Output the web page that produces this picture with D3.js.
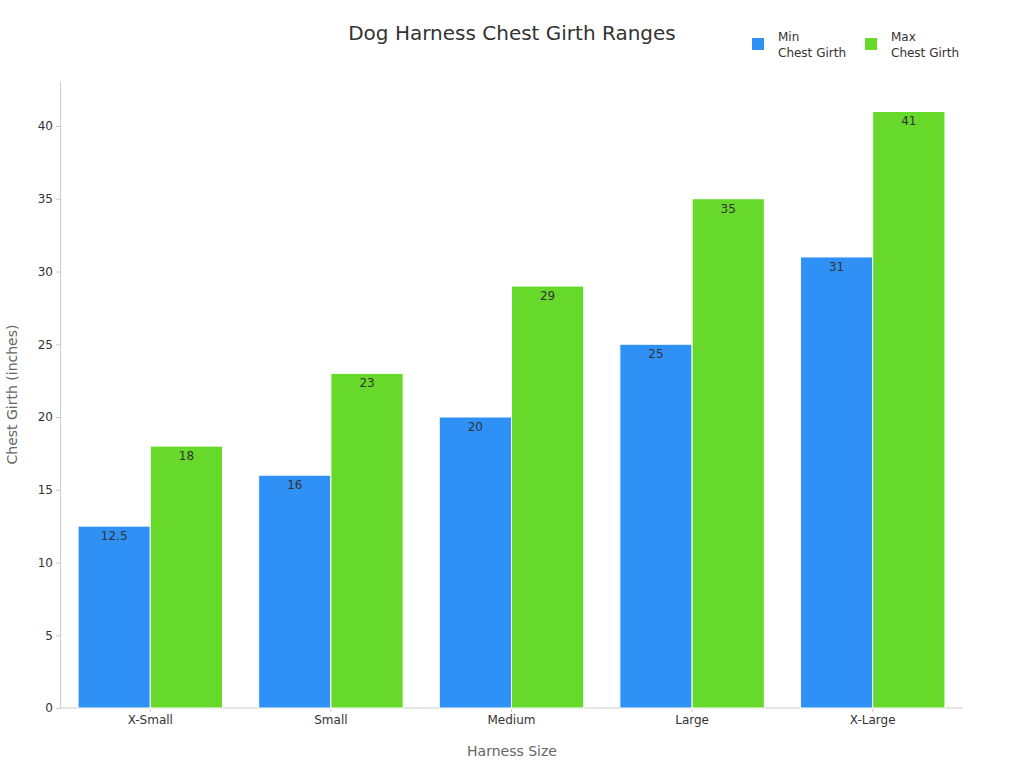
<!DOCTYPE html>
<html><head><meta charset="utf-8">
<script src="https://cdn.jsdelivr.net/npm/d3@7"></script>
<style>body{margin:0;background:#fff;font-family:"DejaVu Sans",sans-serif}</style>
</head><body><svg id="c" width="1024" height="768"></svg>
<script>
const categories=["X-Small","Small","Medium","Large","X-Large"];
const minGirth=[12.5,16,20,25,31];
const maxGirth=[18,23,29,35,41];
const seriesNames=[["Min","Chest Girth"],["Max","Chest Girth"]];
const colors=["#2f91f5","#66d92a"];
const yTicks=[0,5,10,15,20,25,30,35,40];

const svg=d3.select("#c");
const L=60,R=963,T=81,B=708;
const x=d3.scaleBand().domain(categories).range([L,R]).paddingInner(0.2).paddingOuter(0.1);
const xs=d3.scaleBand().domain([0,1]).range([0,x.bandwidth()]);
const y=d3.scaleLinear().domain([0,40*(B-T)/(B-126)]).range([B,T]);

svg.append("text").attr("x",512).attr("y",40).attr("text-anchor","middle").attr("font-size",20).attr("fill","#333").text("Dog Harness Chest Girth Ranges");

const ya=svg.append("g").attr("transform",`translate(${L},0)`).call(d3.axisLeft(y).tickValues(yTicks).tickSize(4).tickSizeOuter(0));
const xa=svg.append("g").attr("transform",`translate(0,${B})`).call(d3.axisBottom(x).tickSize(4).tickSizeOuter(0));
[ya,xa].forEach(a=>{a.selectAll("path,line").attr("stroke","#ccc");a.selectAll("text").attr("fill","#333").attr("font-size",12).attr("font-family","DejaVu Sans");});
xa.select(".domain").attr("d",`M${L},0H${R}`);

[minGirth,maxGirth].forEach((vals,s)=>{
  const g=svg.append("g");
  g.selectAll("rect").data(vals).join("rect")
   .attr("x",(d,i)=>x(categories[i])+xs(s)).attr("y",d=>y(d))
   .attr("width",xs.bandwidth()).attr("height",d=>B-y(d))
   .attr("fill",colors[s]).attr("stroke","#fff").attr("stroke-width",1);
  g.selectAll("text").data(vals).join("text")
   .attr("x",(d,i)=>x(categories[i])+xs(s)+xs.bandwidth()/2).attr("y",d=>y(d)+14)
   .attr("text-anchor","middle").attr("font-size",12).attr("fill","#333").text(d=>d);
});

svg.append("text").attr("transform",`translate(17,${(T+B)/2}) rotate(-90)`).attr("text-anchor","middle").attr("font-size",14).attr("fill","#666").text("Chest Girth (inches)");
svg.append("text").attr("x",512).attr("y",756).attr("text-anchor","middle").attr("font-size",14).attr("fill","#666").text("Harness Size");

const lx=[752,865];
seriesNames.forEach((n,i)=>{
  svg.append("rect").attr("x",lx[i]).attr("y",38).attr("width",12).attr("height",12).attr("fill",colors[i]);
  const t=svg.append("text").attr("font-size",12).attr("fill","#333");
  t.append("tspan").attr("x",lx[i]+26).attr("y",41).text(n[0]);
  t.append("tspan").attr("x",lx[i]+26).attr("y",57).text(n[1]);
});
</script></body></html>
